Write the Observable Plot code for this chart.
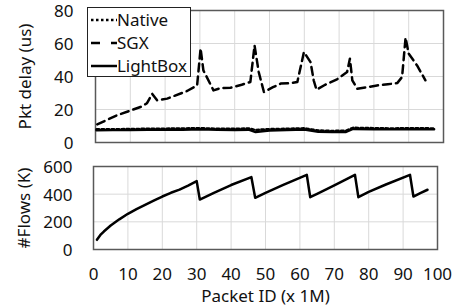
<!DOCTYPE html>
<html>
<head>
<meta charset="utf-8">
<script src="https://cdn.jsdelivr.net/npm/d3@7"></script>
<script src="https://cdn.jsdelivr.net/npm/@observablehq/plot@0.6"></script>
<style>
  body { margin: 0; background: #fff; }
  #wrap { position: relative; width: 465px; height: 307px; font-family: "Noto Sans", sans-serif; overflow: hidden; }
  #topPanel, #bottomPanel { position: absolute; left: 0; }
  #topPanel { top: 0; }
  #bottomPanel { top: 150px; }
  #legend { position: absolute; left: 87px; top: 7px; width: 102px; height: 68px; border: 1.5px solid #222; background: #fff; }
  #legend svg { display: block; overflow: visible; }
</style>
</head>
<body>
<div id="wrap">
  <div id="topPanel"></div>
  <div id="bottomPanel"></div>
  <div id="legend"></div>
</div>
<script>
// ---- data ----
const seriesNames = ["Native", "SGX", "LightBox"];

const nativeX = [0.3, 5, 10, 15, 20, 25, 30, 35, 40, 44, 46, 50, 55, 60, 64, 68, 72, 74, 80, 85, 90, 95, 97.3];
const nativeY = [8, 8, 8.2, 8.3, 8.4, 8.5, 8.7, 8.3, 8.3, 8.5, 7.6, 8.1, 8.3, 8.6, 7.3, 7.0, 7.2, 8.9, 8.7, 8.5, 8.7, 8.6, 8.5];

const sgxX = [0.5, 6.2, 12.9, 14.8, 16.3, 17.7, 20.6, 26.3, 29.2, 30.2, 31, 33.9, 36, 38.8, 42, 44.5, 45.7, 46.9, 48.4, 51, 53.2, 56, 58, 59.9, 61.8, 62.7, 63.5, 66, 69.4, 72.3, 73.1, 73.8, 75.2, 78, 80.9, 84, 86.7, 88.1, 89.1, 90, 92.4, 94.8];
const sgxY = [11, 16.5, 21.5, 23.8, 29.5, 25.6, 26.6, 31.2, 34.6, 57, 43.7, 31.6, 33, 33.2, 35, 36.7, 58.8, 42.7, 30.6, 33.5, 35.7, 36, 36.7, 54.8, 48.7, 37.7, 32, 35, 38.3, 42.7, 50.8, 37.7, 32.6, 33.5, 34.6, 35.3, 36, 39.7, 63.5, 53.8, 46.7, 37.7];

const lightX = [0.3, 5, 10, 15, 20, 25, 30, 35, 40, 44, 46, 50, 55, 60, 64, 68, 72, 74, 80, 85, 90, 95, 97.3];
const lightY = [7.4, 7.5, 7.6, 7.7, 7.8, 7.8, 8.0, 7.7, 7.6, 7.8, 6.4, 7.3, 7.6, 7.9, 6.5, 6.3, 6.4, 8.2, 8.1, 8.0, 8.1, 8.0, 8.0];

const flowX = [1, 2, 3, 5, 7.5, 10, 12.5, 15, 17.5, 20, 22.5, 25, 27.5, 30, 30.9, 35, 40, 45.9, 47, 50, 55, 62, 63, 65, 70, 76, 77, 80, 85, 92, 93, 95, 97.1];
const flowY = [70, 105, 130, 173, 218, 258, 292, 323, 353, 383, 410, 433, 462, 494, 361, 410, 466, 523, 374, 410, 465, 540, 378, 402, 463, 540, 378, 416, 470, 540, 383, 408, 432];

const xTicks = [0, 10, 20, 30, 40, 50, 60, 70, 80, 90, 100];
const delayTicks = [0, 20, 40, 60, 80];
const flowTicks = [0, 200, 400, 600];

// ---- tables ----
const zip = (xs, ys, name) => xs.map((x, i) => ({x, y: ys[i], name}));
const native = zip(nativeX, nativeY, seriesNames[0]);
const sgx = zip(sgxX, sgxY, seriesNames[1]);
const light = zip(lightX, lightY, seriesNames[2]);
const flows = zip(flowX, flowY, "flows");

const FONT = "Noto Sans";
const gridColor = "#d9d9d9";
const frameColor = "#595959";
const svgStyle = {fontFamily: FONT, fontSize: "17px", color: "#111", background: "transparent", overflow: "visible"};

const delayChart = Plot.plot({
  width: 465, height: 160,
  marginLeft: 95, marginRight: 22, marginTop: 10, marginBottom: 18,
  style: svgStyle,
  x: {domain: [0, 100], axis: null},
  y: {domain: [0, 80]},
  marks: [
    Plot.gridX(xTicks, {stroke: gridColor, strokeOpacity: 1, strokeWidth: 1}),
    Plot.gridY(delayTicks, {stroke: gridColor, strokeOpacity: 1, strokeWidth: 1}),
    Plot.frame({stroke: frameColor, strokeWidth: 1.5}),
    Plot.axisY({ticks: delayTicks, tickSize: 0, tickPadding: 22, fontSize: 17, dy: 1.5,
      label: "Pkt delay (us)", labelAnchor: "center", labelOffset: 77, labelArrow: "none"}),
    Plot.line(light, {x: "x", y: "y", stroke: "#000", strokeWidth: 2.5}),
    Plot.line(native, {x: "x", y: "y", stroke: "#000", strokeWidth: 2.5, strokeDasharray: "2.5,2.5"}),
    Plot.line(sgx, {x: "x", y: "y", stroke: "#000", strokeWidth: 2.5, strokeDasharray: "8,5"})
  ]
});
document.getElementById("topPanel").append(delayChart);

const flowChart = Plot.plot({
  width: 465, height: 157,
  marginLeft: 93, marginRight: 28, marginTop: 16, marginBottom: 58,
  style: svgStyle,
  x: {domain: [0, 100]},
  y: {domain: [0, 600]},
  marks: [
    Plot.gridX(xTicks, {stroke: gridColor, strokeOpacity: 1, strokeWidth: 1}),
    Plot.gridY(flowTicks, {stroke: gridColor, strokeOpacity: 1, strokeWidth: 1}),
    Plot.frame({stroke: frameColor, strokeWidth: 1.5}),
    Plot.axisY({ticks: flowTicks, tickSize: 0, tickPadding: 21, fontSize: 17, dy: 1,
      label: "#Flows (K)", labelAnchor: "center", labelOffset: 76, labelArrow: "none"}),
    Plot.axisX({ticks: xTicks, tickSize: 0, tickPadding: 18, fontSize: 17,
      label: "Packet ID (x 1M)", labelAnchor: "center", labelOffset: 52, labelArrow: "none"}),
    Plot.line(flows, {x: "x", y: "y", stroke: "#000", strokeWidth: 2.5})
  ]
});
document.getElementById("bottomPanel").append(flowChart);

// ---- legend ----
const styles = {
  Native: {dash: "2.5,2.5"},
  SGX: {dash: "9,11,6,0"},
  LightBox: {dash: null}
};
const legend = d3.select("#legend").append("svg").attr("width", 102).attr("height", 68)
  .style("font-family", FONT).style("font-size", "17px");
seriesNames.forEach((name, i) => {
  const cy = 12 + i * 23;
  const ln = legend.append("line").attr("x1", 3).attr("x2", 29).attr("y1", cy).attr("y2", cy)
    .attr("stroke", "#000").attr("stroke-width", 2.5);
  if (styles[name].dash) ln.attr("stroke-dasharray", styles[name].dash);
  legend.append("text").attr("x", 29).attr("y", cy).attr("dy", "0.35em").attr("fill", "#111")
    .attr("textLength", name === "LightBox" ? 70 : null).text(name);
});
</script>
</body>
</html>
